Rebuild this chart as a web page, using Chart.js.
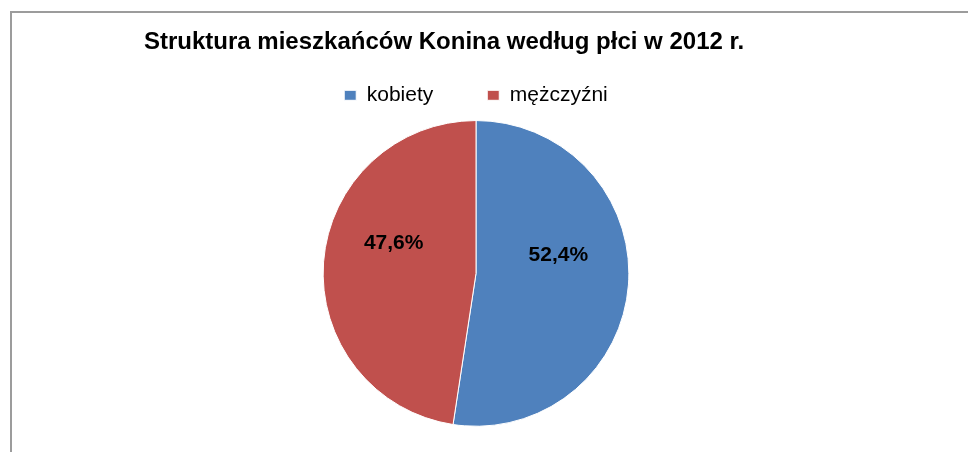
<html lang="pl">
  <head>
    <meta charset="UTF-8" />
    <title>Struktura mieszkańców Konina</title>
    <script src="https://cdn.jsdelivr.net/npm/chart.js@4/dist/chart.umd.min.js"></script>
    <style>
      body { margin: 0; background: #fff; }
      .wrap { position: relative; width: 968px; height: 452px; overflow: hidden; }
      .frame {
        position: absolute; left: 10px; top: 11px; width: 980px; height: 460px;
        border-left: 2px solid #9c9c9c; border-top: 2px solid #9c9c9c;
      }
      canvas { position: absolute; left: 0; top: 0; }
    </style>
  </head>
  <body>
    <div class="wrap">
      <div class="frame"></div>
      <canvas id="pieCanvas" width="968" height="452"></canvas>
    </div>
    <script>
      // Data
      const titleText = "Struktura mieszkańców Konina według płci w 2012 r.";
      const categories = ["kobiety", "mężczyźni"];
      const shares = [52.4, 47.6];
      const colors = ["#4F81BD", "#C0504D"];

      const fontFamily = "'Liberation Sans', Arial, sans-serif";

      // percent labels inside slices
      const sliceLabels = {
        id: "sliceLabels",
        afterDatasetsDraw(chart) {
          const ctx = chart.ctx;
          const meta = chart.getDatasetMeta(0);
          ctx.save();
          ctx.font = "bold 21px " + fontFamily;
          ctx.fillStyle = "#000";
          ctx.textAlign = "center";
          ctx.textBaseline = "middle";
          meta.data.forEach((arc, i) => {
            const mid = (arc.startAngle + arc.endAngle) / 2;
            const r = arc.outerRadius * 0.54;
            const x = arc.x + Math.cos(mid) * r;
            const y = arc.y + Math.sin(mid) * r - arc.outerRadius * 0.16;
            const txt = shares[i].toFixed(1).replace(".", ",") + "%";
            ctx.fillText(txt, x, y);
          });
          ctx.restore();
        },
      };

      new Chart(document.getElementById("pieCanvas"), {
        type: "pie",
        data: {
          labels: categories,
          datasets: [
            {
              data: shares,
              backgroundColor: colors,
              borderColor: "#ffffff",
              borderWidth: 1,
              radius: "97.3%",
            },
          ],
        },
        options: {
          responsive: false,
          animation: false,
          layout: { padding: { left: 144, right: 160, top: 28, bottom: 21 } },
          plugins: {
            title: {
              display: true,
              text: titleText,
              align: "start",
              color: "#000",
              font: { family: fontFamily, size: 24, weight: "bold" },
              padding: { top: 0, bottom: -26 },
            },
            legend: {
              position: "top",
              labels: {
                color: "#000",
                font: { family: fontFamily, size: 21 },
                boxWidth: 12,
                boxHeight: 10,
                padding: 54,
              },
            },
            tooltip: { enabled: false },
          },
        },
        plugins: [sliceLabels],
      });
    </script>
  </body>
</html>
